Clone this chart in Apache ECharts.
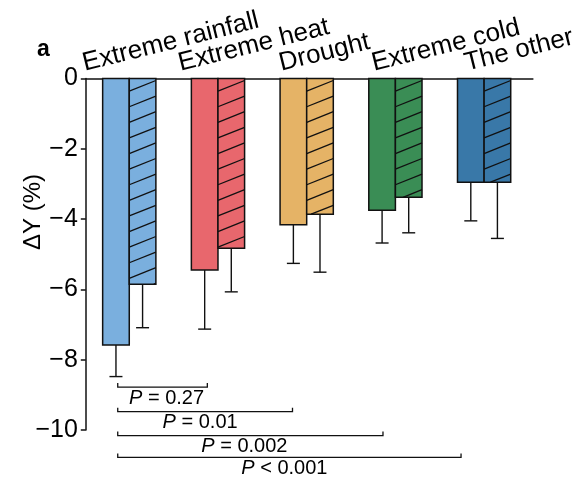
<!DOCTYPE html>
<html>
<head>
<meta charset="utf-8">
<script src="https://cdn.jsdelivr.net/npm/echarts@6/dist/echarts.min.js"></script>
<style>
  html, body { margin: 0; padding: 0; background: #fff; }
  #chart { width: 582px; height: 483px; }
</style>
</head>
<body>
<div id="chart"></div>
<script>
// Yield change (%) by type of extreme event: plain bars and hatched bars, with error bars
const categories = ['Extreme rainfall', 'Extreme heat', 'Drought', 'Extreme cold', 'The other'];
const colors = ['#7AAFDE', '#E8676D', '#E5B366', '#3A8D55', '#3978A8'];
const solidValues = [-7.58, -5.45, -4.16, -3.75, -2.95];
const solidErrors = [0.90, 1.68, 1.10, 0.93, 1.10];
const hatchedValues = [-5.85, -4.83, -3.86, -3.38, -2.95];
const hatchedErrors = [1.24, 1.24, 1.65, 1.01, 1.60];

// Pairwise comparison brackets (ends in category units, level in axis units)
const pStart = [-0.13, -0.13, -0.13, -0.13];
const pEnd = [0.88, 1.84, 2.86, 3.74];
const pLevel = [-8.78, -9.48, -10.16, -10.78];
const pTexts = ['= 0.27', '= 0.01', '= 0.002', '< 0.001'];

// Layout: horizontal nudges for the bracket captions and the rotated category labels (px)
const pTextShift = [4, -5, -6, -5];
const labelShift = [-43, -36, -24, -20, -16];

const BAR_W = 0.3;
const INK = '#111';
const FONT = '"Liberation Sans", Arial, sans-serif';

function barRenderer(side, hatched) {
  return function (params, api) {
    const i = api.value(0), v = api.value(1), e = api.value(2);
    const x0 = side < 0 ? i - BAR_W : i;
    const x1 = x0 + BAR_W;
    const tl = api.coord([x0, 0]);
    const br = api.coord([x1, v]);
    const errEnd = api.coord([(x0 + x1) / 2, v - e]);
    const left = tl[0], right = br[0], top = tl[1], bottom = br[1];
    const w = right - left;
    const cx = (left + right) / 2;
    const color = colors[params.dataIndex];
    const children = [];
    children.push({ type: 'rect', shape: { x: left, y: top, width: w, height: bottom - top },
      style: { fill: color, stroke: null } });
    if (hatched) {
      const rise = w * 0.40, gap = 15.6;
      for (let yr = top + 2; yr < bottom; yr += gap) {
        let yl = yr + rise, xl = left;
        if (yl > bottom) { xl = right - w * (bottom - yr) / rise; yl = bottom; }
        children.push({ type: 'line', shape: { x1: xl, y1: yl, x2: right, y2: yr },
          style: { stroke: INK, lineWidth: 1.3 } });
      }
    }
    children.push({ type: 'rect', shape: { x: left, y: top, width: w, height: bottom - top },
      style: { fill: null, stroke: INK, lineWidth: 1.5 } });
    children.push({ type: 'line', shape: { x1: cx, y1: bottom, x2: cx, y2: errEnd[1] },
      style: { stroke: INK, lineWidth: 1.4 } });
    children.push({ type: 'line', shape: { x1: cx - 6.5, y1: errEnd[1], x2: cx + 6.5, y2: errEnd[1] },
      style: { stroke: INK, lineWidth: 1.4 } });
    return { type: 'group', children: children };
  };
}

function bracketRenderer(params, api) {
  const a = api.coord([api.value(0), api.value(2)]);
  const b = api.coord([api.value(1), api.value(2)]);
  const y = a[1];
  const k = params.dataIndex;
  return {
    type: 'group',
    children: [
      { type: 'polyline', shape: { points: [[a[0], y - 4], [a[0], y], [b[0], y], [b[0], y - 4]] },
        style: { stroke: INK, lineWidth: 1.3, fill: null } },
      { type: 'text', x: (a[0] + b[0]) / 2 + pTextShift[k], y: y + 1,
        style: { text: '{i|P} ' + pTexts[k], font: '20px ' + FONT, fill: '#000',
          align: 'center', verticalAlign: 'top',
          rich: { i: { fontStyle: 'italic', font: 'italic 20px ' + FONT } } } }
    ]
  };
}

const chart = echarts.init(document.getElementById('chart'), null, { renderer: 'canvas' });
chart.setOption({
  animation: false,
  backgroundColor: '#fff',
  grid: { left: 85.8, right: 49.1, top: 78.5, bottom: 53, outerBoundsMode: 'none', containLabel: false },
  xAxis: {
    type: 'value', min: -0.49, max: 4.55, position: 'top',
    axisLine: { show: true, onZero: false, lineStyle: { color: INK, width: 1.5 } },
    axisTick: { show: false }, axisLabel: { show: false }, splitLine: { show: false }
  },
  yAxis: {
    type: 'value', min: -10, max: 0, interval: 2,
    axisLine: { show: true, onZero: false, lineStyle: { color: INK, width: 1.5 } },
    axisTick: { show: true, inside: false, length: 5, lineStyle: { color: INK, width: 1.5 } },
    axisLabel: { fontSize: 25, fontFamily: FONT, color: '#000', margin: 8,
      formatter: v => (v < 0 ? '\u2212' : '') + Math.abs(v) },
    splitLine: { show: false }
  },
  series: [
    { type: 'custom', renderItem: barRenderer(-1, false), clip: false,
      data: categories.map((c, i) => [i, solidValues[i], solidErrors[i]]) },
    { type: 'custom', renderItem: barRenderer(1, true), clip: false,
      data: categories.map((c, i) => [i, hatchedValues[i], hatchedErrors[i]]) },
    { type: 'custom', renderItem: bracketRenderer, clip: false,
      data: pTexts.map((t, k) => [pStart[k], pEnd[k], pLevel[k]]) }
  ]
});

// Rotated category labels above the zero line, the axis title and the panel letter
const graphics = [
  { type: 'text', left: 37, top: 38, style: { text: 'a', font: 'bold 23px ' + FONT, fill: '#000' } },
  { type: 'text', x: 33, y: 212, rotation: Math.PI / 2,
    style: { text: 'ΔY (%)', font: '24px ' + FONT, fill: '#000', align: 'center', verticalAlign: 'middle' } }
];
categories.forEach((c, i) => {
  const p = chart.convertToPixel({ xAxisIndex: 0, yAxisIndex: 0 }, [i, 0]);
  graphics.push({ type: 'text', x: p[0] + labelShift[i], y: p[1] - 2, rotation: 14 * Math.PI / 180,
    style: { text: c, font: '26px ' + FONT, fill: '#000', align: 'left', verticalAlign: 'bottom' } });
});
chart.setOption({ graphic: graphics });
</script>
</body>
</html>
